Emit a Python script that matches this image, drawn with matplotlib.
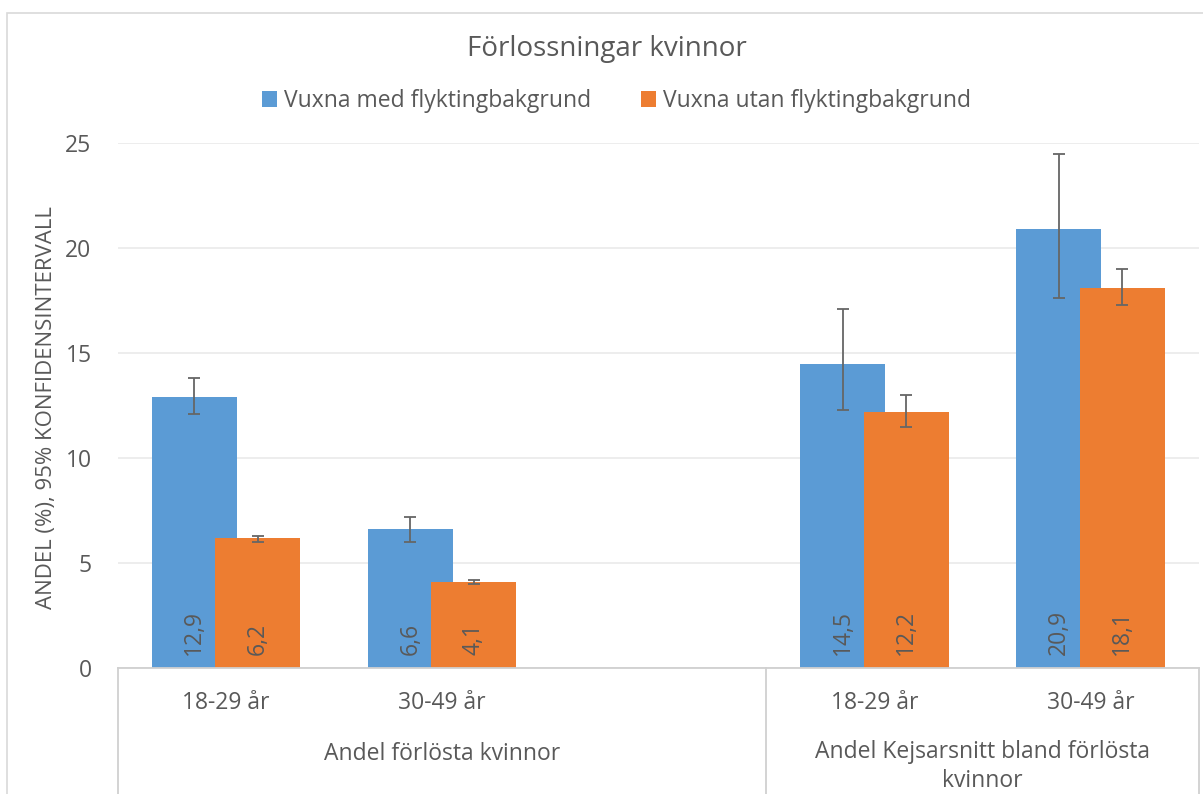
import numpy as np
import matplotlib.pyplot as plt
from matplotlib.patches import Rectangle
import matplotlib.transforms as mtransforms

# Förlossningar kvinnor: andel (%) med 95% konfidensintervall
ages = ['18-29 år', '30-49 år', '18-29 år', '30-49 år']
slots = [0, 1, 3, 4]          # slot 2 is an empty spacer between the two groups
groups = ['Andel förlösta kvinnor', 'Andel Kejsarsnitt bland förlösta\nkvinnor']
series = ['Vuxna med flyktingbakgrund', 'Vuxna utan flyktingbakgrund']

med = [12.9, 6.6, 14.5, 20.9]
med_lo = [12.1, 6.0, 12.3, 17.6]
med_hi = [13.8, 7.2, 17.1, 24.5]

utan = [6.2, 4.1, 12.2, 18.1]
utan_lo = [6.0, 4.0, 11.5, 17.3]
utan_hi = [6.3, 4.2, 13.0, 19.0]

BLUE = '#5B9BD5'
ORANGE = '#ED7D31'
TXT = '#595959'
GRID = '#EAEAEA'
FONT = 'Open Sans'

plt.rcParams['font.family'] = FONT

fig = plt.figure(figsize=(12.03, 7.94), dpi=100)
W, H = 1203, 794
ax = fig.add_axes([118 / W, 1 - 668 / H, (1198.5 - 118) / W, (668 - 143) / H])

# chart frame
fig.patches.append(Rectangle((7 / W, -0.1), 1.2, 1 - 13 / H + 0.1, transform=fig.transFigure,
                             fill=False, edgecolor='#D9D9D9', lw=1.2, zorder=0))

x = np.array(slots, dtype=float)
bw = 0.393
off = 0.147

ax.bar(x - off, med, width=bw, color=BLUE, zorder=2, label=series[0])
ax.bar(x + off, utan, width=bw, color=ORANGE, zorder=3, label=series[1])

med_err = [np.array(med) - np.array(med_lo), np.array(med_hi) - np.array(med)]
utan_err = [np.array(utan) - np.array(utan_lo), np.array(utan_hi) - np.array(utan)]
ax.errorbar(x - off, med, yerr=med_err, fmt='none', ecolor='#666666', elinewidth=1.3,
            capsize=4, capthick=1.3, zorder=4)
ax.errorbar(x + off, utan, yerr=utan_err, fmt='none', ecolor='#666666', elinewidth=1.3,
            capsize=4, capthick=1.3, zorder=4)

# value labels at the base of each bar
for xi, v in zip(x - off, med):
    ax.text(xi, 0.6, f'{v:.1f}'.replace('.', ','), rotation=90, ha='center', va='bottom',
            fontsize=16.5, color=TXT, zorder=5)
for xi, v in zip(x + off, utan):
    ax.text(xi, 0.6, f'{v:.1f}'.replace('.', ','), rotation=90, ha='center', va='bottom',
            fontsize=16.5, color=TXT, zorder=5)

ax.set_xlim(-0.5, 4.5)
ax.set_ylim(0, 25)
ax.set_yticks(range(0, 26, 5))
ax.yaxis.grid(True, color=GRID, lw=1.2, zorder=0)
ax.set_axisbelow(True)
for s in ax.spines.values():
    s.set_visible(False)
ax.tick_params(axis='y', length=0, labelsize=16.5, labelcolor=TXT, pad=19)
ax.set_xticks([])

fig.text(47 / W, 1 - 408 / H, 'ANDEL (%), 95% KONFIDENSINTERVALL', rotation=90,
         ha='center', va='center', fontsize=16, color=TXT)

# multi-level category axis
tr = mtransforms.blended_transform_factory(ax.transData, ax.transAxes)
ax.plot([-0.5, 4.5], [0, 0], transform=tr, color='#D0D0D0', lw=1.3, clip_on=False, zorder=6)
for xs in [-0.5, 2.5, 4.5]:
    ax.plot([xs, xs], [0, -0.3], transform=tr, color='#D0D0D0', lw=1.3, clip_on=False)
for xi, lab in zip(x, ages):
    ax.text(xi, -35 / 525, lab, transform=tr, ha='center', va='center', fontsize=16.5, color=TXT)
ax.text(1.0, -86 / 525, groups[0], transform=tr, ha='center', va='center', fontsize=16.5, color=TXT)
ax.text(3.5, -72 / 525, groups[1], transform=tr, ha='center', va='top', fontsize=16.5,
        color=TXT, linespacing=1.3)

fig.text(607 / W, 1 - 49 / H, 'Förlossningar kvinnor', ha='center', va='center', fontsize=20, color=TXT)
fig.legend(loc='center', bbox_to_anchor=(616.5 / W, 1 - 101 / H), ncol=2, frameon=False,
           fontsize=16.5, labelcolor=TXT, handlelength=0.65, handleheight=0.65,
           columnspacing=2.2, handletextpad=0.3)

fig.savefig('out.png', dpi=100)
